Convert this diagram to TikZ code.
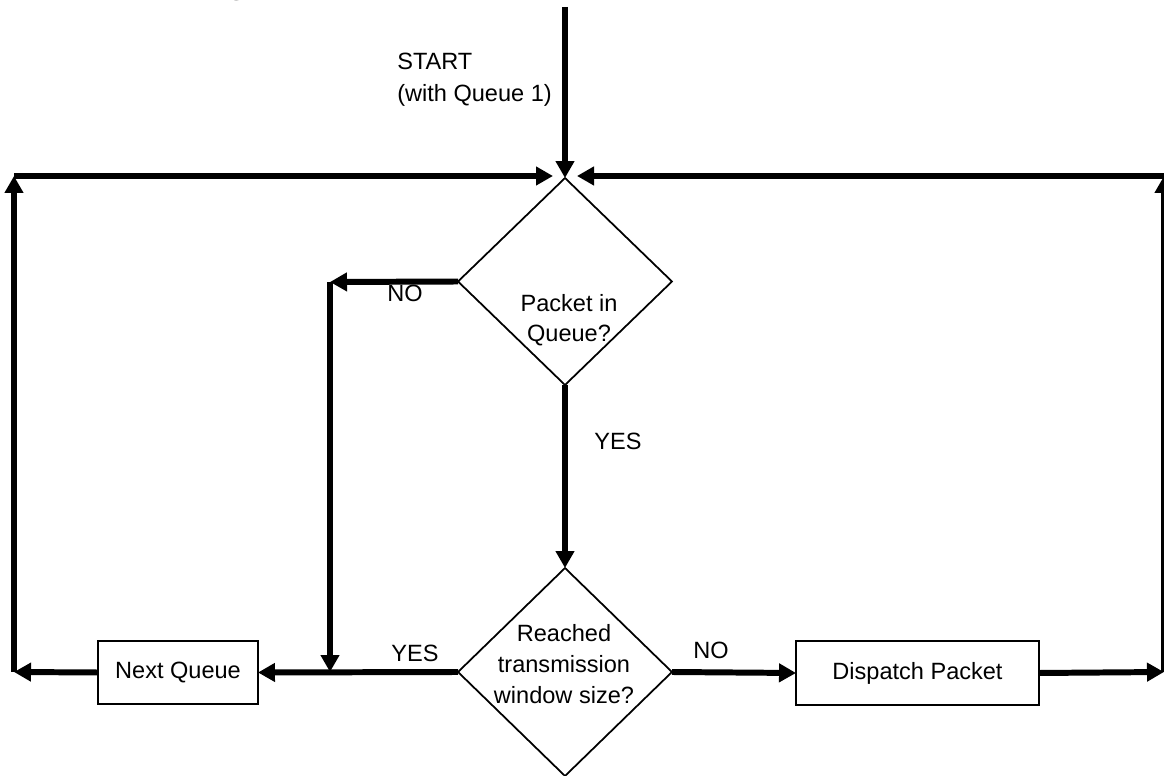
\documentclass[tikz,border=0pt]{standalone}
\usepackage{fontspec}
\setmainfont{Liberation Sans}
\newfontfamily\titlefont{Liberation Serif}
\usetikzlibrary{arrows.meta,shapes.geometric}
\begin{document}
\begin{tikzpicture}[x=0.02cm,y=-0.02cm,
 flow/.style={line width=3.4pt,-{Triangle[length=0.34cm,width=0.36cm]}},
 dia/.style={draw,diamond,line width=1pt,minimum width=4.28cm,minimum height=4.14cm,inner sep=0pt,outer sep=0pt},
 box/.style={draw,rectangle,line width=1.1pt,inner sep=0pt,outer sep=0pt,font=\fontsize{13.4pt}{17.6pt}\selectfont},
 txt/.style={font=\fontsize{13.4pt}{17.6pt}\selectfont,inner sep=0pt,align=center}]
\useasboundingbox (0,0) rectangle (1164,776);
\clip (0,0) rectangle (1164,776);

\node[font=\titlefont\bfseries\fontsize{16pt}{18pt}\selectfont,anchor=base west,inner sep=0pt] (title) at (128,-5) {Queueing};

\node[dia] (d1) at (565,281.5) {};
\node[txt,font=\fontsize{13.4pt}{17pt}\selectfont] (d1t) at (569,320) {Packet in\\Queue?};
\node[dia,minimum height=4.16cm] (d2) at (565,672) {};
\node[txt] (d2t) at (564,664) {Reached\\transmission\\window size?};
\node[box,minimum width=3.2cm,minimum height=1.26cm] (nq) at (178,672.5) {Next Queue};
\node[box,minimum width=4.86cm,minimum height=1.28cm] (dp) at (917.5,673) {Dispatch Packet};

\node[txt,font=\fontsize{13.4pt}{18pt}\selectfont,align=left,anchor=north west] (start) at (397,53) {START\\(with Queue 1)};
\node[txt] (no1) at (405,293) {NO};
\node[txt] (yes1) at (618,441) {YES};
\node[txt] (yes2) at (415,653) {YES};
\node[txt] (no2) at (711,650) {NO};

\coordinate (top) at (565,7);
\coordinate (lb) at (14,672);
\coordinate (lt) at (14,176);
\coordinate (rb) at (1164,672);
\coordinate (rt) at (1164,176);
\coordinate (nl) at (330,282);
\coordinate (nb) at (330,672);
\coordinate (hl) at (553,176);
\coordinate (hr) at (577,176);

\draw[flow] (top) -- (d1.north);
\draw[flow] (d1.west) -- (nl);
\draw[flow] (nl) -- (nb);
\draw[flow] (d1.south) -- (d2.north);
\draw[flow] (d2.west) -- (nq.east);
\draw[flow] (nq.west) -- (lb);
\draw[flow] (lb) -- (lt);
\draw[flow] (lt) -- (hl);
\draw[flow] (d2.east) -- (dp.west);
\draw[flow] (dp.east) -- (rb);
\draw[flow] (rb) -- (rt);
\draw[flow] (rt) -- (hr);
\end{tikzpicture}
\end{document}
